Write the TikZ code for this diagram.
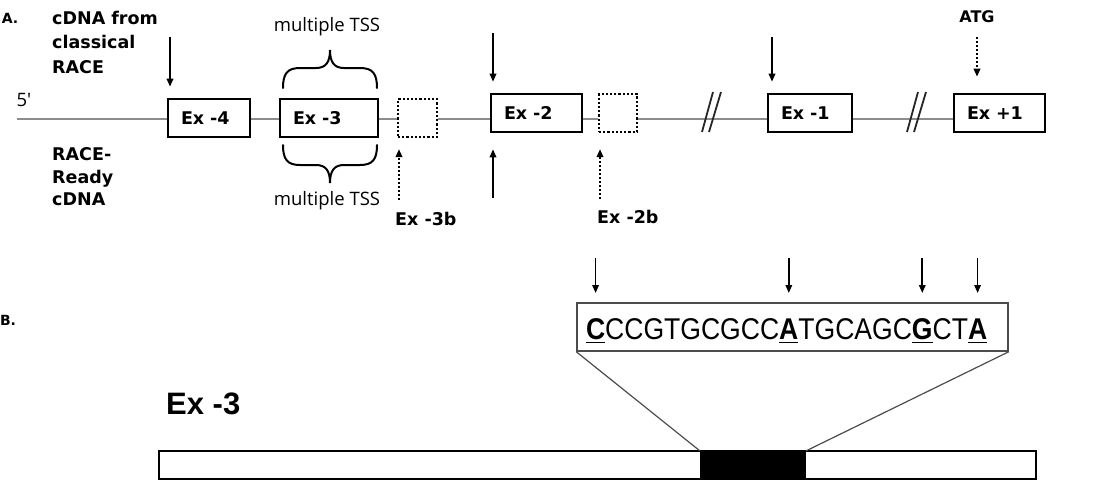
\documentclass[tikz,border=0pt]{standalone}
\usepackage{fontspec}
\usetikzlibrary{arrows.meta}
\newfontfamily\dvs{DejaVu Sans}
\newfontfamily\osans{Open Sans}
\newfontfamily\seqf[FakeStretch=0.885]{Liberation Sans}
\newfontfamily\libs{Liberation Sans}
\begin{document}
\begin{tikzpicture}[x=1pt,y=-1pt,
  lbl/.style={font=\dvs\bfseries\fontsize{17.5}{24.5}\selectfont, inner sep=0pt, align=left},
  lblsm/.style={font=\dvs\bfseries\fontsize{14}{16}\selectfont, inner sep=0pt},
  reg/.style={font=\osans\fontsize{18.5}{22}\selectfont, inner sep=0pt},
  exon/.style={draw, line width=2.6pt, fill=white, minimum height=38pt, inner xsep=13pt, inner ysep=0pt,
               text width=#1, align=left, font=\dvs\bfseries\fontsize{17.5}{20}\selectfont},
  dexon/.style={draw, dotted, line width=2.2pt, fill=white, minimum width=#1, minimum height=38pt, inner sep=0pt},
  intron/.style={draw=black!45, line width=2pt},
  brk/.style={draw=black!85, line width=1.8pt},
  arr/.style={line width=1.7pt, -{Triangle[length=8pt,width=6.5pt]}},
  darr/.style={line width=2pt, dotted, -{Triangle[length=8pt,width=6.5pt]}},
  brace/.style={line width=2pt, line cap=round},
  seq/.style={inner sep=0pt, outer sep=0pt, anchor=base west, font=\seqf\fontsize{30}{30}\selectfont},
  ul/.style={line width=1.8pt},
]
\useasboundingbox (0,0) rectangle (1103,488);

% ---------------- Part A ----------------
\coordinate (five) at (17,119);
\node[exon=56pt] (e4) at (209,118) {Ex -4};
\node[exon=72pt] (e3) at (329,118) {Ex -3};
\node[dexon=39pt] (e3b) at (417.5,118) {};
\node[exon=65pt] (e2) at (536.5,113) {Ex -2};
\node[dexon=38pt] (e2b) at (618,113) {};
\node[exon=58pt] (e1) at (810,113) {Ex -1};
\node[exon=65pt] (ep1) at (999.5,113) {Ex +1};

% intron line
\draw[intron] (five) -- (e4.west |- five);
\draw[intron] (e4.east |- five) -- (e3.west |- five);
\draw[intron] (e3.east |- five) -- (e3b.west |- five);
\draw[intron] (e3b.east |- five) -- (e2.west |- five);
\draw[intron] (e2.east |- five) -- (e2b.west |- five);
\draw[intron] (e2b.east |- five) -- (e1.west |- five);
\draw[intron] (e1.east |- five) -- (ep1.west |- five);

% break marks
\draw[brk] (702,132) -- (713,92);
\draw[brk] (709,132) -- (721,92);
\draw[brk] (907,132) -- (918,92);
\draw[brk] (914,132) -- (926,92);

% labels
\node[lblsm] (la) at (10,18) {A.};
\node[lbl, anchor=west] (cdna) at (52,42) {cDNA from\\classical\\RACE};
\node[reg] (five5) at (24,100) {5′};
\node[font=\dvs\bfseries\fontsize{17.5}{22.5}\selectfont, inner sep=0pt, align=left, anchor=west] (rr) at (52,177) {RACE-\\Ready\\cDNA};
\node[reg] (tss1) at (327,27) {multiple TSS};
\node[reg] (tss2) at (327,201) {multiple TSS};
\node[lbl, anchor=west] (l3b) at (395,219) {Ex -3b};
\node[lbl, anchor=west] (l2b) at (597,217) {Ex -2b};
\node[font=\dvs\bfseries\fontsize{16}{18}\selectfont, inner sep=0pt] (atg) at (977,17) {ATG};

% braces
\draw[brace] (283,88) .. controls (283,74) and (287,68) .. (300,68) -- (316,68)
  .. controls (326,68) and (330,62) .. (330,50)
  .. controls (330,62) and (334,68) .. (344,68) -- (360,68)
  .. controls (373,68) and (377,74) .. (377,88);
\draw[brace] (283,145) .. controls (283,159) and (287,165) .. (300,165) -- (316,165)
  .. controls (326,165) and (330,171) .. (330,183)
  .. controls (330,171) and (334,165) .. (344,165) -- (360,165)
  .. controls (373,165) and (377,159) .. (377,145);

% arrows
\coordinate (a1s) at (170,37);
\coordinate (a2s) at (493,33);
\coordinate (a3s) at (493,198);
\coordinate (a4s) at (772,37);
\coordinate (a5s) at (977,37);
\coordinate (a6s) at (399,200);
\coordinate (a7s) at (600,199);
\draw[arr] (a1s) -- ([yshift=11pt]e4.north west -| a1s);
\draw[arr] (a2s) -- ([yshift=11pt]e2.north west -| a2s);
\draw[arr] (a3s) -- ([yshift=-16pt]e2.south west -| a3s);
\draw[arr] (a4s) -- ([yshift=11pt]e1.north west -| a4s);
\draw[darr] (a5s) -- ([yshift=16pt]ep1.north west -| a5s);
\draw[darr] (a6s) -- ([yshift=-11pt]e3b.south west -| a6s);
\draw[darr] (a7s) -- ([yshift=-16pt]e2b.south west -| a7s);

% ---------------- Part B ----------------
\node[lblsm] (lb) at (8,320) {B.};
\node[draw=black!70, line width=1.5pt, minimum width=431pt, minimum height=48pt, inner sep=0pt] (seqbox) at (792.5,327) {};
\node[seq] (s1) at (586,339) {\bfseries C};
\node[seq] (s2) at (s1.base east) {CCGTGCGCC};
\node[seq] (s3) at (s2.base east) {\bfseries A};
\node[seq] (s4) at (s3.base east) {TGCAGC};
\node[seq] (s5) at (s4.base east) {\bfseries G};
\node[seq] (s6) at (s5.base east) {CT};
\node[seq] (s7) at (s6.base east) {\bfseries A};
\foreach \s in {s1,s3,s5,s7}{
  \draw[ul] ([yshift=-3.5pt]\s.base west) -- ([yshift=-3.5pt]\s.base east);
  \draw[arr] (\s.center |- 0,258) -- (\s.center |- 0,293);
}

\node[font=\libs\bfseries\fontsize{31}{31}\selectfont, inner sep=0pt, anchor=west] (bex3) at (166,404) {Ex -3};
\node[draw, line width=2.4pt, minimum width=877pt, minimum height=28pt, inner sep=0pt] (bar) at (597.5,465) {};
\node[fill=black, minimum width=106pt, minimum height=28pt, inner sep=0pt] (blk) at (753,465) {};
\draw[line width=1.2pt, black!70] (seqbox.south west) -- (blk.north west);
\draw[line width=1.2pt, black!70] (seqbox.south east) -- (blk.north east);
\end{tikzpicture}
\end{document}
